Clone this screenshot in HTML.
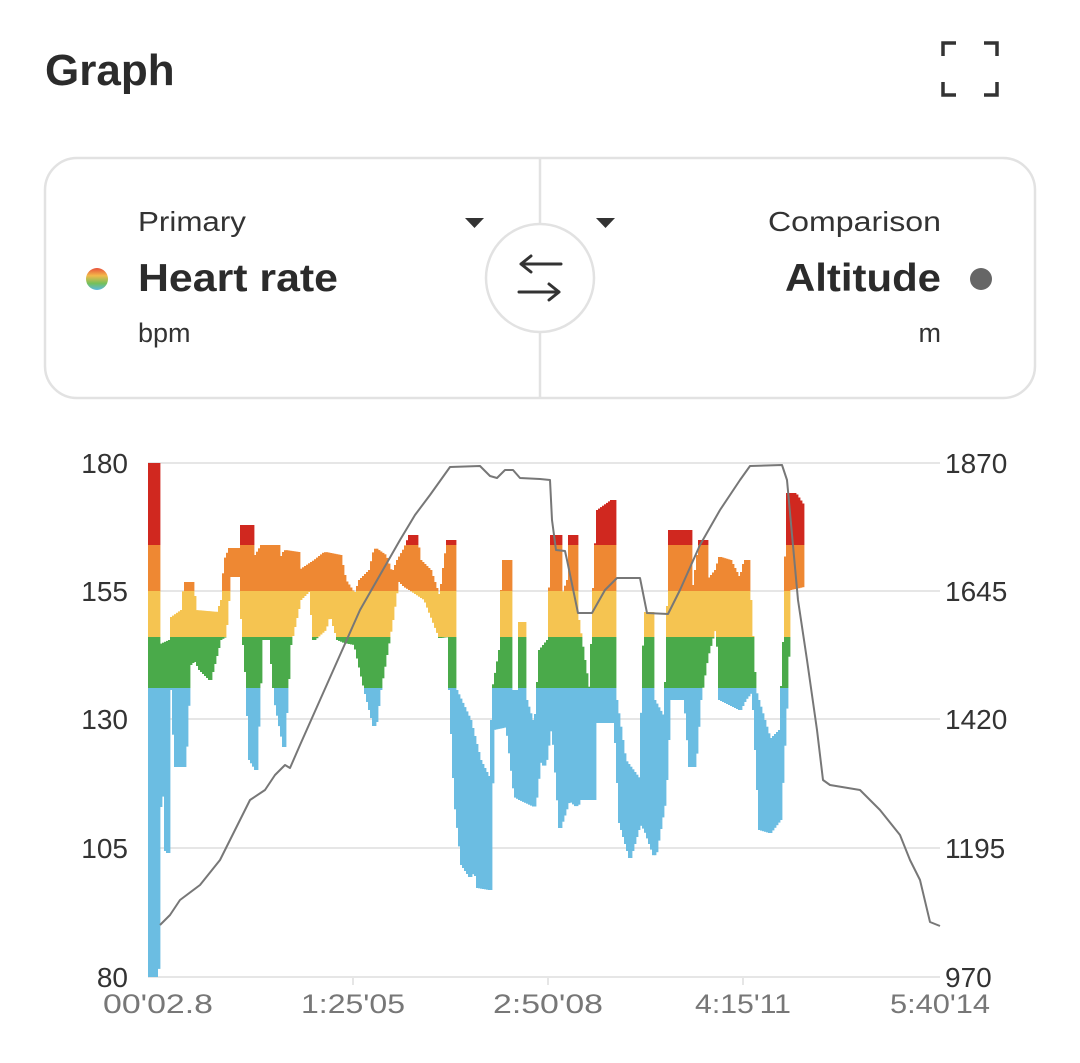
<!DOCTYPE html>
<html><head><meta charset="utf-8"><style>
html,body{margin:0;padding:0;background:#fff;width:1080px;height:1063px;overflow:hidden}
svg{display:block}
text{font-family:"Liberation Sans",sans-serif}
</style></head><body>
<svg id="s" width="1080" height="1063" viewBox="0 0 1080 1063" xmlns="http://www.w3.org/2000/svg">
<defs>
<linearGradient id="hr" gradientUnits="userSpaceOnUse" x1="0" y1="463" x2="0" y2="977">
<stop offset="0" stop-color="#d0281f"/><stop offset="0.1595" stop-color="#d0281f"/>
<stop offset="0.1595" stop-color="#ee8833"/><stop offset="0.2490" stop-color="#ee8833"/>
<stop offset="0.2490" stop-color="#f5c451"/><stop offset="0.3385" stop-color="#f5c451"/>
<stop offset="0.3385" stop-color="#4aaa4a"/><stop offset="0.4377" stop-color="#4aaa4a"/>
<stop offset="0.4377" stop-color="#6bbde2"/><stop offset="1" stop-color="#6bbde2"/>
</linearGradient>
<linearGradient id="dot" x1="0" y1="0" x2="0" y2="1">
<stop offset="0" stop-color="#e8503a"/><stop offset="0.35" stop-color="#f3b94a"/><stop offset="0.7" stop-color="#74c05a"/><stop offset="1" stop-color="#5ab8e0"/>
</linearGradient>
</defs>
<text x="45" y="85" font-size="44" font-weight="bold" fill="#2b2b2b">Graph</text>
<g stroke="#333" stroke-width="3.5" fill="none">
<path d="M943 56V43H956M984 43H997V56M997 82V95H984M956 95H943V82"/>
</g>
<rect x="45" y="158" width="990" height="240" rx="32" fill="#fff" stroke="#e2e2e2" stroke-width="2.5"/>
<line x1="540" y1="158" x2="540" y2="398" stroke="#e2e2e2" stroke-width="2.5"/>
<circle cx="540" cy="278" r="54" fill="#fff" stroke="#e2e2e2" stroke-width="2.5"/>
<g stroke="#333" stroke-width="3" fill="none" stroke-linecap="round">
<path d="M521 264H561M521 264L531 256M521 264L531 272"/>
<path d="M519 292H559M559 292L549 284M559 292L549 300"/>
</g>
<text x="138" y="231" font-size="28" fill="#333" textLength="108" lengthAdjust="spacingAndGlyphs">Primary</text>
<text x="138" y="291" font-size="39" font-weight="bold" fill="#2b2b2b" textLength="200" lengthAdjust="spacingAndGlyphs">Heart rate</text>
<text x="138" y="342" font-size="27" fill="#333">bpm</text>
<circle cx="97" cy="279" r="11" fill="url(#dot)"/>
<path d="M465 218H484L474.5 228Z" fill="#333"/>
<path d="M596 218H615L605.5 228Z" fill="#333"/>
<text x="941" y="231" font-size="28" fill="#333" text-anchor="end" textLength="173" lengthAdjust="spacingAndGlyphs">Comparison</text>
<text x="941" y="291" font-size="39" font-weight="bold" fill="#2b2b2b" text-anchor="end" textLength="156" lengthAdjust="spacingAndGlyphs">Altitude</text>
<text x="941" y="342" font-size="27" fill="#333" text-anchor="end">m</text>
<circle cx="981" cy="279" r="11" fill="#666"/>
<g stroke="#e6e6e6" stroke-width="2">
<line x1="148" y1="463" x2="940" y2="463"/><line x1="148" y1="591" x2="940" y2="591"/>
<line x1="148" y1="719" x2="940" y2="719"/><line x1="148" y1="848" x2="940" y2="848"/>
<line x1="148" y1="977" x2="940" y2="977"/>
<line x1="353" y1="977" x2="353" y2="985"/><line x1="548" y1="977" x2="548" y2="985"/><line x1="743" y1="977" x2="743" y2="985"/>
</g>
<g font-size="28" fill="#333" text-anchor="end">
<text x="128" y="473">180</text><text x="128" y="601">155</text><text x="128" y="729">130</text><text x="128" y="858">105</text><text x="128" y="987">80</text>
</g>
<g font-size="28" fill="#333">
<text x="945" y="473">1870</text><text x="945" y="601">1645</text><text x="945" y="729">1420</text><text x="945" y="858">1195</text><text x="945" y="987">970</text>
</g>
<g font-size="27" fill="#777" text-anchor="middle">
<text x="158" y="1013" textLength="110" lengthAdjust="spacingAndGlyphs">00'02.8</text><text x="353" y="1013" textLength="104" lengthAdjust="spacingAndGlyphs">1:25'05</text><text x="548" y="1013" textLength="110" lengthAdjust="spacingAndGlyphs">2:50'08</text><text x="743" y="1013" textLength="96" lengthAdjust="spacingAndGlyphs">4:15'11</text><text x="940" y="1013" textLength="100" lengthAdjust="spacingAndGlyphs">5:40'14</text>
</g>
<g id="bars" fill="url(#hr)"></g>
<polyline fill="none" stroke="#777" stroke-width="2" stroke-linejoin="round" points="160,925 170,915 180,900 200,885 220,860 240,820 250,800 265,790 275,775 285,765 290,768 300,745 320,700 340,655 360,610 380,575 400,540 415,515 430,495 450,467 480,466 490,476 497,478 505,470 513,470 520,478 540,479 550,480 552,520 556,550 565,551 567,560 578,613 592,613 605,590 617,578 640,578 647,613 668,614 680,590 700,545 720,510 740,480 750,466 782,465 787,480 798,600 807,660 817,730 823,780 830,785 860,790 880,810 900,835 910,860 920,880 930,922 940,926"/>
</svg>
<script>
var T=[148,463,158,463,159,645,170,640,172,617,182,610,185,582,193,582,195,610,218,612,222,600,225,560,230,548,240,548,241,525,252,525,253,560,262,545,278,545,280,560,285,550,298,552,300,570,315,560,325,552,340,555,345,580,355,595,360,580,370,570,375,548,385,555,392,575,398,560,405,548,410,535,416,535,420,560,430,570,440,600,445,560,448,540,455,540,456,690,470,720,480,760,490,780,493,690,500,650,503,560,510,560,512,690,518,690,519,622,525,622,526,700,535,730,540,650,548,640,552,535,560,535,561,600,568,580,569,535,577,535,578,620,590,700,595,560,598,510,605,505,612,500,615,500,616,700,625,760,640,780,645,612,653,612,654,700,665,720,670,530,690,530,692,600,700,540,707,540,708,580,716,570,720,557,730,560,740,580,745,560,748,560,750,600,755,690,770,740,780,730,785,620,787,493,795,493,803,505,804,545];
var B=[804,545,803,587,790,590,787,690,780,820,770,833,760,830,753,690,745,700,740,710,720,700,717,620,707,657,700,700,695,767,690,767,685,700,670,700,665,800,655,858,645,830,640,823,630,858,620,823,615,723,596,723,595,800,580,800,577,807,569,800,560,828,552,717,545,767,540,760,535,807,520,800,515,797,507,727,493,730,490,890,478,888,475,870,470,877,462,865,455,800,450,690,448,637,440,638,425,600,410,590,405,587,398,580,392,620,380,690,375,730,365,690,355,645,345,643,338,640,330,612,325,630,314,640,310,590,300,600,290,645,284,747,275,700,270,640,262,640,256,770,250,760,245,650,243,640,240,577,230,577,225,637,220,640,210,680,200,670,195,660,190,665,185,767,175,767,172,670,170,690,168,853,165,850,162,690,160,807,157.9,977,148,977];
function pts(a){var r=[];for(var i=0;i<a.length;i+=2)r.push([a[i],a[i+1]]);r.sort(function(p,q){return p[0]-q[0]});return r;}
var tp=pts(T),bp=pts(B);
function f(p,x){for(var i=0;i<p.length-1;i++){if(x>=p[i][0]&&x<=p[i+1][0]){var d=p[i+1][0]-p[i][0];if(d==0)return p[i][1];return p[i][1]+(p[i+1][1]-p[i][1])*(x-p[i][0])/d;}}return p[p.length-1][1];}
var g=document.getElementById('bars'),h='<rect x="148" y="463" width="10" height="514"/>';
for(var x=158;x<804;x+=2){var t=Math.min(f(tp,x),f(tp,x+2));var b=Math.max(f(bp,x),f(bp,x+2));if(b<t+6)b=t+6;h+='<rect x="'+x+'" y="'+t.toFixed(1)+'" width="2.4" height="'+(b-t).toFixed(1)+'"/>';}
g.innerHTML=h;
</script>
</body></html>
